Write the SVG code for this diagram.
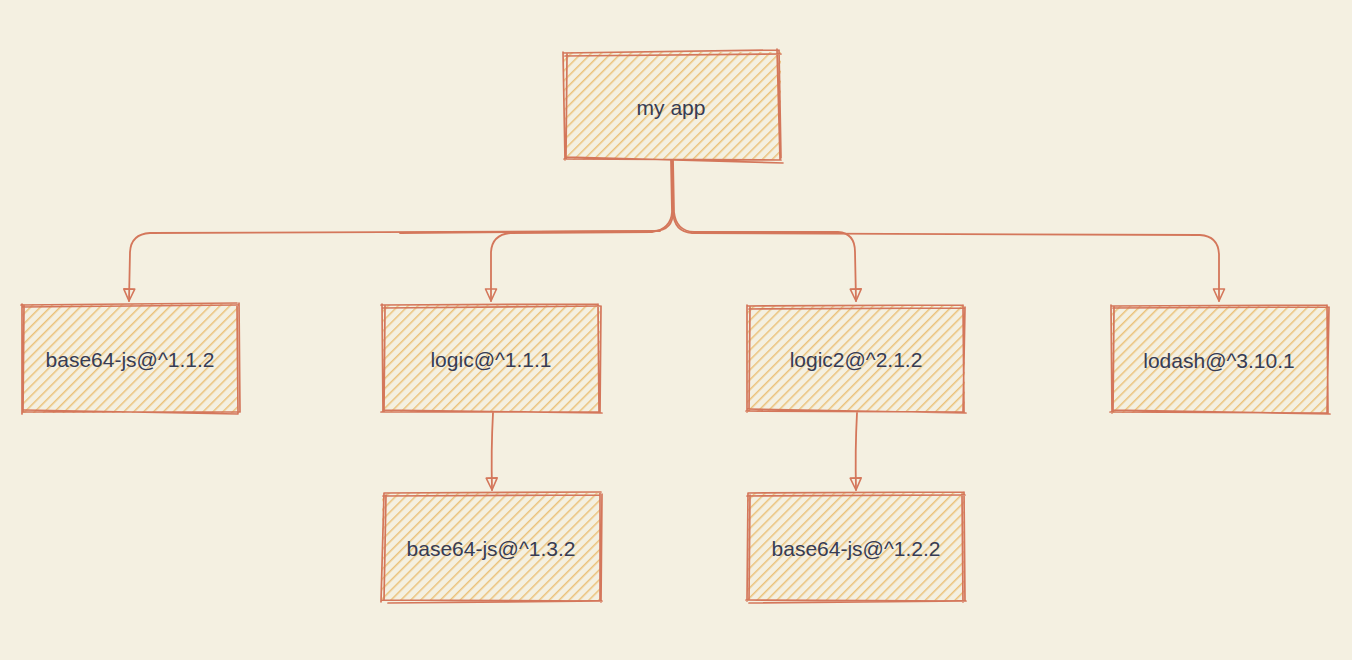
<svg xmlns="http://www.w3.org/2000/svg" width="1352" height="660" viewBox="0 0 1352 660">
<defs>
<pattern id="hatch" patternUnits="userSpaceOnUse" width="7" height="7" patternTransform="rotate(45)">
<line x1="0" y1="0" x2="0" y2="7" stroke="#ebc27a" stroke-width="3"/>
</pattern>
<marker id="arr" markerWidth="16" markerHeight="16" refX="14" refY="8" orient="auto" markerUnits="userSpaceOnUse" viewBox="0 0 16 16">
<path d="M2,2.5 L14,8 L2,13.5 Z" fill="none" stroke="#d4775b" stroke-width="1.6" stroke-linejoin="round"/>
</marker>
</defs>
<style>
.box{fill:url(#hatch);stroke:none}
.edge{fill:none;stroke:#d4775b;stroke-width:1.7;stroke-linecap:round;stroke-linejoin:round}
.con{fill:none;stroke:#d4775b;stroke-width:1.8;stroke-linecap:round}
.lbl{font-family:"Liberation Sans",Arial,sans-serif;font-size:21px;fill:#363c55;text-anchor:middle;dominant-baseline:central}
</style>
<rect width="1352" height="660" fill="#f4f0e1"/>
<g id="connectors">
<path class="con" d="M672,160 L673,212 Q673,230 655,231 L150,233 Q131,234 130,252 L129,301" marker-end="url(#arr)"/>
<path class="con" d="M671,160 L672,212 Q671,229 652,232 L510,233 Q492,235 491,252 L491,301" marker-end="url(#arr)"/>
<path class="con" d="M673,160 L674,212 Q676,231 694,232 L838,232 Q855,233 855,252 L856,301" marker-end="url(#arr)"/>
<path class="con" d="M672,162 L673,212 Q674,232 692,233 L1200,235 Q1218,236 1219,254 L1219,301" marker-end="url(#arr)"/>
<path class="con" d="M493,413 Q491,450 492,490" marker-end="url(#arr)"/>
<path class="con" d="M857,413 Q855,450 856,490" marker-end="url(#arr)"/>
<path class="con" d="M400,233 L660,231" stroke-width="1"/>
</g>
<g id="node-myapp">
<rect class="box" x="564" y="52" width="217" height="108"/>
<path class="edge" d="M563,53 L779,50 M565,56 L781,54 M563,52 L565,160 M567,54 L566,158 M564,159 L781,160 M566,157 L783,163 M779,50 L781,158 M777,49 L780,159"/>
<text class="lbl" x="671" y="107">my app</text>
</g>
<g id="node-base64-112">
<rect class="box" x="22" y="304" width="216" height="109"/>
<path class="edge" d="M21,305 L237,303 M23,307 L238,305 M22,304 L22,414 M24,306 L23,412 M22,412 L239,412 M24,410 L238,414 M237,305 L238,413 M239,303 L240,412"/>
<text class="lbl" x="130" y="359">base64-js@^1.1.2</text>
</g>
<g id="node-logic">
<rect class="box" x="382" y="305" width="218" height="107"/>
<path class="edge" d="M381,305 L598,304 M383,308 L600,306 M382,304 L383,412 M385,306 L384,411 M381,412 L600,412 M383,410 L602,413 M598,304 L599,412 M601,306 L600,413"/>
<text class="lbl" x="491" y="359">logic@^1.1.1</text>
</g>
<g id="node-logic2">
<rect class="box" x="747" y="306" width="218" height="106"/>
<path class="edge" d="M747,306 L963,305 M749,309 L965,308 M747,305 L747,412 M750,307 L749,411 M746,411 L964,412 M748,409 L966,413 M963,305 L964,412 M965,307 L963,413"/>
<text class="lbl" x="856" y="359">logic2@^2.1.2</text>
</g>
<g id="node-lodash">
<rect class="box" x="1111" y="306" width="217" height="107"/>
<path class="edge" d="M1111,306 L1327,305 M1113,308 L1329,307 M1111,305 L1112,413 M1114,307 L1113,412 M1110,412 L1328,413 M1112,410 L1330,414 M1327,305 L1328,413 M1329,307 L1327,414"/>
<text class="lbl" x="1219" y="360">lodash@^3.10.1</text>
</g>
<g id="node-base64-132">
<rect class="box" x="382" y="493" width="218" height="108"/>
<path class="edge" d="M384,493 L601,492 M383,496 L600,495 M384,493 L381,602 M386,495 L384,600 M381,600 L601,601 M388,603 L602,601 M600,493 L600,601 M602,494 L601,602"/>
<text class="lbl" x="491" y="548">base64-js@^1.3.2</text>
</g>
<g id="node-base64-122">
<rect class="box" x="747" y="493" width="218" height="108"/>
<path class="edge" d="M748,493 L964,492 M747,496 L965,495 M748,493 L747,601 M750,495 L749,600 M746,600 L965,601 M749,603 L966,601 M964,492 L965,601 M962,494 L963,602"/>
<text class="lbl" x="856" y="548">base64-js@^1.2.2</text>
</g>
</svg>
